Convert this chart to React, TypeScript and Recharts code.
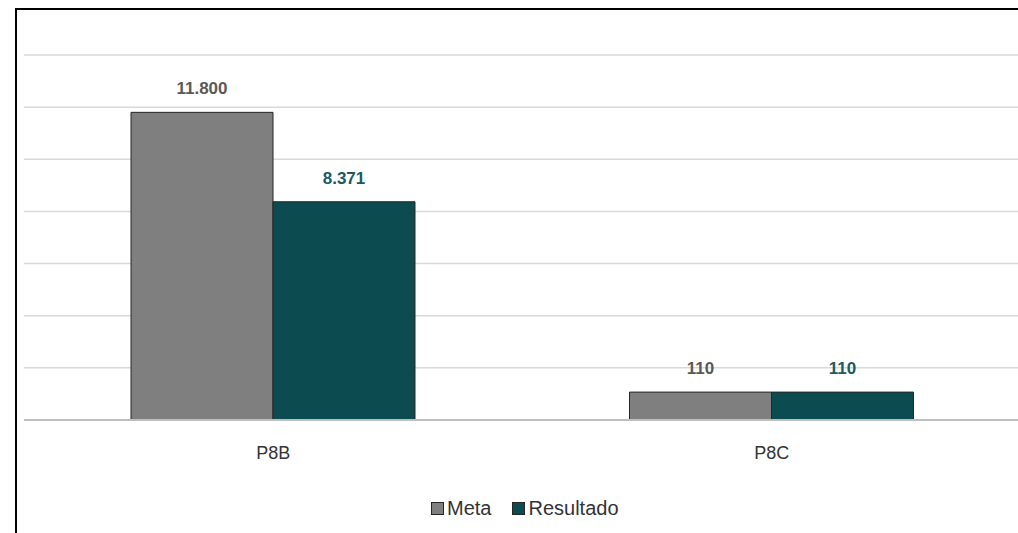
import React from "react";
import { BarChart, Bar, XAxis, YAxis, CartesianGrid, Legend, LabelList } from "recharts";

const categories = ["P8B", "P8C"];
const metaValues = [11800, 1070];
const resultadoValues = [8371, 1070];
const metaLabels = ["11.800", "110"];
const resultadoLabels = ["8.371", "110"];
const yTicks = [0, 2000, 4000, 6000, 8000, 10000, 12000, 14000];

const data = categories.map((c, i) => ({
  name: c,
  Meta: metaValues[i],
  Resultado: resultadoValues[i],
  metaLabel: metaLabels[i],
  resultadoLabel: resultadoLabels[i],
}));

const FONT = "'Liberation Sans', Arial, sans-serif";
const GRAY = "#7f7f7f";
const TEAL = "#0c4c51";

const renderLegend = (props: any) => {
  const { payload } = props;
  return (
    <div style={{ display: "flex", alignItems: "center", fontFamily: FONT, fontSize: 20, lineHeight: "22px", color: "#333" }}>
      {(payload || []).map((entry: any, i: number) => (
        <div key={i} style={{ display: "flex", alignItems: "center", marginRight: i === 0 ? 21 : 0 }}>
          <span
            style={{
              display: "inline-block",
              width: 11,
              height: 11,
              background: entry.color,
              border: "1px solid #262626",
              marginRight: 3,
            }}
          />
          <span>{entry.value}</span>
        </div>
      ))}
    </div>
  );
};

export default function App() {
  return (
    <div style={{ position: "absolute", left: 0, top: 0, width: 1018, height: 533, overflow: "hidden", background: "#fff" }}>
      <div
        style={{
          position: "absolute",
          left: 15,
          top: 8,
          width: 1100,
          height: 600,
          borderLeft: "2px solid #000",
          borderTop: "2px solid #000",
        }}
      />
      <div style={{ position: "absolute", left: 0, top: 0 }}>
        <BarChart
          width={1030}
          height={533}
          data={data}
          margin={{ top: 55, right: 9, bottom: 61, left: 24 }}
          barGap={0}
          barSize={142}
        >
          <CartesianGrid vertical={false} stroke="#d9d9d9" strokeWidth={1.5} />
          <YAxis hide domain={[0, 14000]} ticks={yTicks} />
          <XAxis
            dataKey="name"
            tickLine={false}
            axisLine={{ stroke: "#bfbfbf", strokeWidth: 2 }}
            tickMargin={20}
            tick={{ fill: "#333", fontSize: 18, fontFamily: FONT }}
          />
          <Legend
            content={renderLegend}
            wrapperStyle={{ left: 431, top: 497, width: "auto" }}
          />
          <Bar dataKey="Meta" fill={GRAY} stroke="#262626" strokeWidth={1} isAnimationActive={false}>
            <LabelList
              dataKey="metaLabel"
              position="top"
              offset={18}
              style={{ fill: "#595959", fontSize: 17, fontWeight: "bold", fontFamily: FONT }}
            />
          </Bar>
          <Bar dataKey="Resultado" fill={TEAL} stroke="#262626" strokeWidth={1} isAnimationActive={false}>
            <LabelList
              dataKey="resultadoLabel"
              position="top"
              offset={18}
              style={{ fill: "#1b5a5e", fontSize: 17, fontWeight: "bold", fontFamily: FONT }}
            />
          </Bar>
        </BarChart>
      </div>
    </div>
  );
}
